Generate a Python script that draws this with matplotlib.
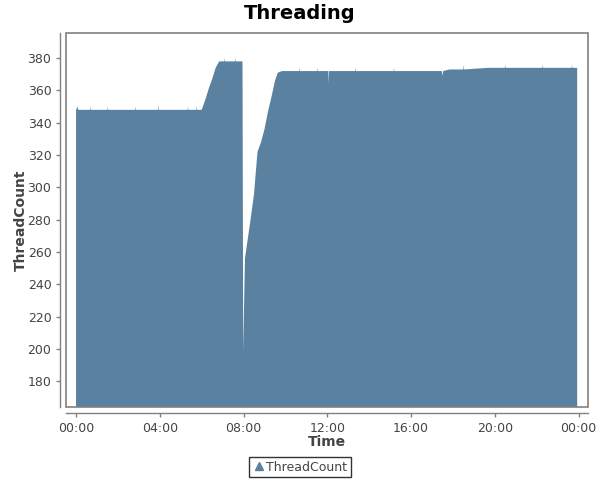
import pandas as pd
import matplotlib
matplotlib.use("Agg")
import matplotlib.pyplot as plt
from matplotlib.patches import Rectangle
from matplotlib.lines import Line2D

# thread count samples (time of day, count)
times = ["00:00", "00:05", "00:06", "00:07", "00:40", "00:41", "00:42", "01:30",
         "01:31", "01:32", "02:50", "02:51", "02:52", "03:55", "03:56", "03:57",
         "05:20", "05:21", "05:22", "05:45", "05:46", "05:47", "06:00", "06:10",
         "06:20", "06:30", "06:40", "06:50", "07:05", "07:06", "07:07", "07:35",
         "07:36", "07:37", "07:57", "07:59", "08:04", "08:10", "08:20", "08:30",
         "08:38", "08:40", "08:50", "09:00", "09:10", "09:20", "09:30", "09:38",
         "09:50", "10:40", "10:41", "10:42", "11:30", "11:31", "11:32", "12:02",
         "12:03", "12:04", "13:20", "13:21", "13:22", "15:10", "15:11", "15:12",
         "17:28", "17:30", "17:32", "17:50", "18:30", "18:31", "18:32", "19:40",
         "20:30", "20:31", "20:32", "22:15", "22:16", "22:17", "23:40", "23:41",
         "23:42", "23:56"]
thread_count = [348, 350, 348, 348, 348, 350, 348, 348,
                350, 348, 348, 350, 348, 348, 351, 348,
                348, 350, 348, 348, 350, 348, 348, 354,
                361, 367, 374, 378, 378, 380, 378, 378,
                380, 378, 378, 198, 256, 265, 280, 296,
                317, 322, 328, 336, 347, 356, 366, 371,
                372, 372, 374, 372, 372, 374, 372, 372,
                364, 372, 372, 374, 372, 372, 374, 372,
                372, 369, 372, 373, 373, 376, 373, 374,
                374, 376, 374, 374, 376, 374, 374, 376,
                374, 374]

xticks = [0, 4, 8, 12, 16, 20, 24]
xtick_labels = ["00:00", "04:00", "08:00", "12:00", "16:00", "20:00", "00:00"]
yticks = [180, 200, 220, 240, 260, 280, 300, 320, 340, 360, 380]

hours = pd.to_timedelta([t + ":00" for t in times]).total_seconds() / 3600.0

fill_color = "#5A82A0"
grey = "#808080"
text_color = "#444444"

fig = plt.figure(figsize=(6, 4.8), dpi=100)
ax = fig.add_axes([0.11, 0.152, 0.87, 0.779])

ax.fill_between(hours, 0, thread_count, color=fill_color, linewidth=0)

ax.set_xlim(-0.48, 24.45)
ax.set_ylim(164, 395.5)

# plot outline box
ax.add_patch(Rectangle((0, 0), 1, 1, transform=ax.transAxes, fill=False,
                       edgecolor=grey, linewidth=1.2, clip_on=False, zorder=5))

# axis lines offset from the box
for side in ["top", "right"]:
    ax.spines[side].set_visible(False)
for side in ["left", "bottom"]:
    ax.spines[side].set_position(("outward", 4))
    ax.spines[side].set_color(grey)
    ax.spines[side].set_linewidth(1)

ax.set_xticks(xticks)
ax.set_xticklabels(xtick_labels)
ax.set_yticks(yticks)
ax.tick_params(axis="both", colors=grey, labelcolor=text_color, labelsize=9,
               length=3, width=1)

ax.set_xlabel("Time", fontsize=10, fontweight="bold", color=text_color, labelpad=0)
ax.set_ylabel("ThreadCount", fontsize=10, fontweight="bold", color=text_color, labelpad=0)
fig.suptitle("Threading", fontsize=14, fontweight="bold", y=0.992)

handle = Line2D([], [], marker="^", linestyle="none", color=fill_color, markersize=6)
leg = fig.legend([handle], ["ThreadCount"], loc="center", bbox_to_anchor=(0.5, 0.027),
                 frameon=True, fancybox=False, fontsize=9, handletextpad=0.1,
                 borderpad=0.3, handlelength=1.0)
leg.get_frame().set_edgecolor("black")
leg.get_frame().set_linewidth(1)
for t in leg.get_texts():
    t.set_color(text_color)

plt.savefig("out.png", dpi=100)
